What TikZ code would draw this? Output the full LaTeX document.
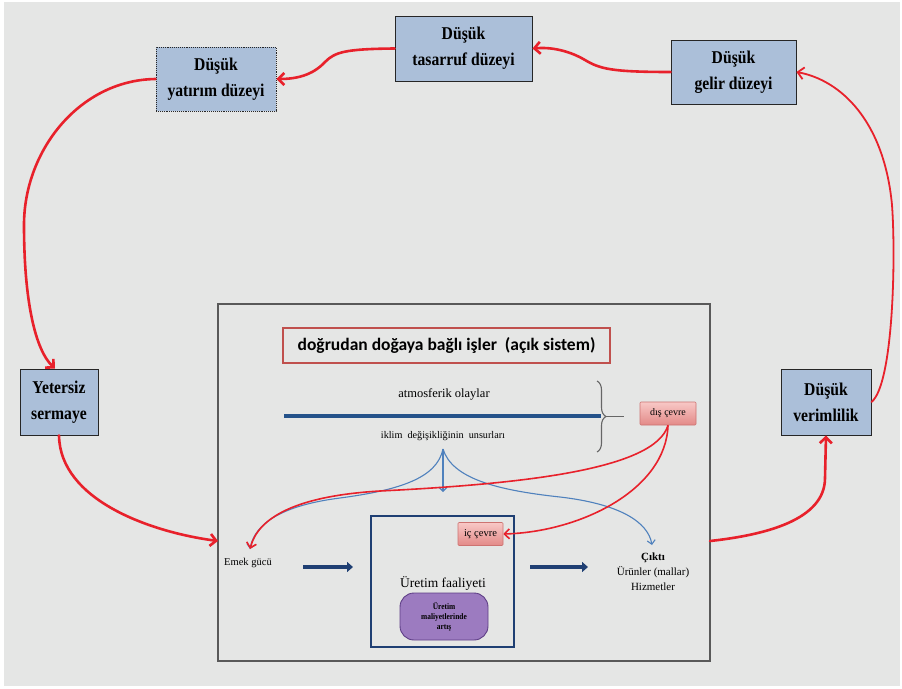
\documentclass[tikz,border=0pt]{standalone}
\usepackage{fontspec}
\setmainfont{Liberation Serif}
\newfontfamily\titlefont{Carlito}
\newfontfamily\boxfont[FakeStretch=0.87]{Liberation Serif}
\usetikzlibrary{arrows.meta,decorations.pathreplacing,calc}

\definecolor{pagegray}{HTML}{E5E6E5}
\definecolor{boxblue}{HTML}{ABBFD9}
\definecolor{loopred}{HTML}{E8212B}
\definecolor{navy}{HTML}{1F3F73}
\definecolor{barblue}{HTML}{24528A}
\definecolor{flowblue}{HTML}{4F81BD}
\definecolor{pinktop}{HTML}{F8C8C6}
\definecolor{pinkbot}{HTML}{E38A88}
\definecolor{pinkedge}{HTML}{C0504D}
\definecolor{violet}{HTML}{9C7BC0}
\definecolor{violetedge}{HTML}{5E3E86}

\begin{document}
\begin{tikzpicture}[x=1pt,y=-1pt,
  level/.style={draw=black!85, line width=0.9pt, fill=boxblue, align=center,
    inner sep=0pt, font=\boxfont\bfseries\fontsize{18}{26}\selectfont},
  loop/.style={draw=loopred, line width=2.6pt, line cap=round,
    -{Straight Barb[length=6pt,width=12pt]}},
  thinloop/.style={loop, line width=1.8pt},
  flow/.style={draw=flowblue, line width=1.1pt,
    -{Straight Barb[length=4pt,width=8pt]}},
  env/.style={draw=loopred, line width=1.6pt,
    -{Straight Barb[length=5pt,width=10pt]}},
  step arrow/.style={draw=navy, line width=3.5pt, -{Triangle[length=6pt,width=10pt]}},
  pinkbox/.style={draw=pinkedge!80, line width=0.6pt, top color=pinktop,
    bottom color=pinkbot, rounded corners=1pt, inner sep=0pt, align=center},
  lbl/.style={inner sep=0pt, align=center}
]
\useasboundingbox (0,0) rectangle (902,688);
\fill[white] (0,0) rectangle (902,688);
\fill[pagegray] (4,2) rectangle (900,686);

% ---- outer cycle boxes ----
\node[level, densely dotted, minimum width=120pt, minimum height=64pt] (yat) at (216,79) {Düşük\\yatırım düzeyi};
\node[level, minimum width=137pt, minimum height=65pt] (tas) at (463.5,48.5) {Düşük\\tasarruf düzeyi};
\node[level, minimum width=125pt, minimum height=64pt] (gel) at (733.5,72) {Düşük\\gelir düzeyi};
\node[level, minimum width=78pt, minimum height=66pt] (yet) at (59,402) {Yetersiz\\sermaye};
\node[level, minimum width=90pt, minimum height=66pt] (ver) at (826,402) {Düşük\\verimlilik};

% ---- inner system frame ----
\node[draw=black!65, line width=1.4pt, minimum width=492pt, minimum height=357pt, inner sep=0pt] (frame) at (464,482.5) {};
\coordinate (inL) at (218,541);
\coordinate (outR) at (710,541);

\node[draw=pinkedge, line width=1.2pt, minimum width=327pt, minimum height=35pt, inner sep=0pt,
  font=\titlefont\bfseries\fontsize{17.5}{20}\selectfont] (title) at (446.5,345.5)
  {doğrudan doğaya bağlı işler\ \ (açık sistem)};

\node[lbl, font=\fontsize{12.5}{14}\selectfont] (atm) at (444,394) {atmosferik olaylar};
\draw[barblue, line width=4.5pt] (284,416) -- (601,416);
\node[lbl, font=\fontsize{10.2}{12}\selectfont] (iklim) at (443,436) {iklim\ \ değişikliğinin\ \ unsurları};
\coordinate (src) at (443,449);

\draw[black!60, line width=1.1pt, decorate,
  decoration={brace, amplitude=9pt, aspect=0.5}] (597,381) -- (597,452);
\draw[black!60, line width=1.1pt] (606,416.5) -- (624,416.5);

\node[pinkbox, minimum width=56pt, minimum height=23pt, font=\fontsize{10}{11}\selectfont] (dis) at (668,413.5) {dış çevre};

% ---- production block ----
\node[draw=navy, line width=1.8pt, minimum width=143pt, minimum height=131pt, inner sep=0pt] (prod) at (442.5,581.5) {};
\node[pinkbox, minimum width=45pt, minimum height=23pt, font=\fontsize{10.5}{12}\selectfont] (ic) at (480.5,534) {iç çevre};
\node[lbl, font=\fontsize{13.5}{16}\selectfont] (uf) at (443,583) {Üretim faaliyeti};
\node[draw=violetedge, line width=0.9pt, fill=violet, rounded corners=14pt,
  minimum width=88pt, minimum height=47pt, inner sep=0pt, align=center,
  font=\boxfont\bfseries\fontsize{8.5}{10}\selectfont] (cost) at (444,616.5) {Üretim\\maliyetlerinde\\artış};

\node[lbl, font=\fontsize{10.5}{12}\selectfont] (emek) at (248,563) {Emek gücü};
\coordinate (emekTop) at (250,549);
\node[lbl, font=\fontsize{11}{15}\selectfont] (cikti) at (653,572) {\textbf{Çıktı}\\Ürünler (mallar)\\Hizmetler};
\coordinate (ciktiTop) at (652,545);
\coordinate (prodIn) at (443,492);

\draw[step arrow] (303,567) -- (353,567);
\draw[step arrow] (530,567) -- (588,567);

% ---- climate influences ----
\draw[flow] (src) -- (prodIn);
\draw[flow] (src) .. controls (437,478) and (400,490) .. (340,498)
  .. controls (285,505) and (255,522) .. (emekTop);
\draw[flow] (src) .. controls (452,478) and (495,490) .. (560,497)
  .. controls (620,504) and (648,522) .. (ciktiTop);

\draw[env] (dis.south) .. controls (655,470) and (520,484) .. (380,491)
  .. controls (295,496) and (258,518) .. (emekTop);
\draw[env] (dis.south) .. controls (666,490) and (580,532) .. (ic.east);

% ---- vicious circle ----
\draw[loop] (tas.west) .. controls (345,49) and (335,52) .. (325,62)
  .. controls (312,76) and (295,79) .. (yat.east);
\draw[loop] (gel.west) .. controls (612,72) and (600,69) .. (585,60)
  .. controls (568,50) and (550,47) .. (tas.east);
\draw[loop] (yat.west) .. controls (80,80) and (24,150) .. (24,225)
  .. controls (24,300) and (35,350) .. ([xshift=-4pt]yet.north);
\draw[loop] (yet.south) .. controls (60,500) and (150,532) .. (inL);
\draw[loop] (outR) .. controls (765,535) and (825,520) .. (825,478)
  -- (ver.south);
\draw[thinloop] (ver.east) .. controls (893,385) and (896,260) .. (892,205)
  .. controls (884,120) and (840,80) .. (gel.east);
\end{tikzpicture}
\end{document}
